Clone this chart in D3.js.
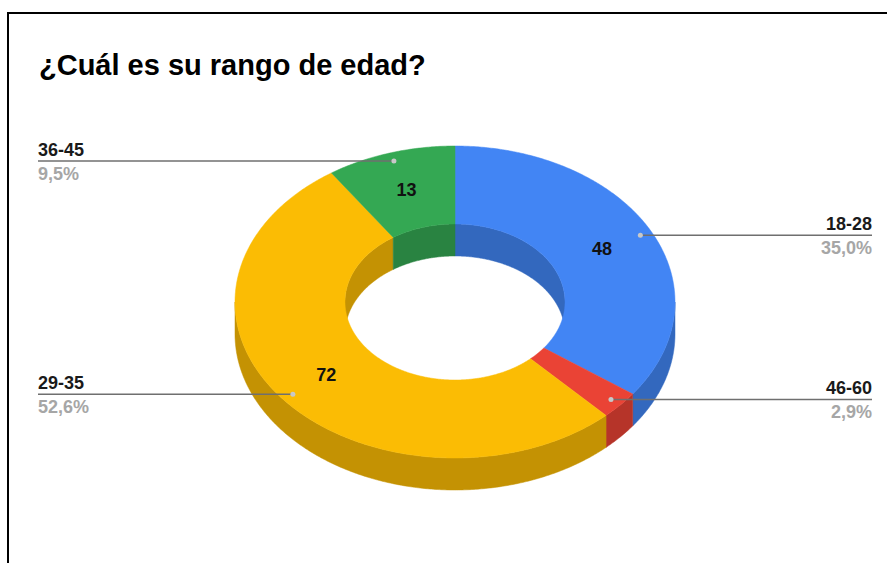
<!DOCTYPE html>
<html>
<head>
<meta charset="utf-8">
<script src="https://cdn.jsdelivr.net/npm/d3@7"></script>
<style>
  html, body { margin: 0; padding: 0; background: #fff; }
  svg { display: block; font-family: "Liberation Sans", Arial, sans-serif; }
</style>
</head>
<body>
<svg id="chart" width="887" height="563"></svg>
<script>
// Age-range survey answers
const title = "¿Cuál es su rango de edad?";
const categories = ["18-28", "46-60", "29-35", "36-45"];
const values = [48, 4, 72, 13];
const colors = ["#4285f4", "#ea4335", "#fbbc04", "#34a853"];

const W = 887, H = 563;
const cx = 455, cy = 302, rx = 220, ry = 156;
const hole = 0.5, depth = 32;
const labelRadius = 0.75, dotRadius = 0.945;
const leftX = 38, rightX = 872;

const svg = d3.select("#chart");

// frame
svg.append("path")
  .attr("d", `M8,${H} L8,13 L${W},13`)
  .attr("fill", "none").attr("stroke", "#000").attr("stroke-width", 2);

svg.append("text")
  .attr("x", 39).attr("y", 75)
  .attr("font-size", 29).attr("font-weight", "bold").attr("fill", "#000")
  .text(title);

// projected (tilted) unit circle -> pixels
const sx = d3.scaleLinear().domain([-1, 1]).range([cx - rx, cx + rx]);
const sy = d3.scaleLinear().domain([-1, 1]).range([cy - ry, cy + ry]);
const pt = (a, r, dz = 0) => [sx(r * Math.sin(a)), sy(-r * Math.cos(a)) + dz];
function arcPts(a0, a1, r, dz) {
  const n = Math.max(2, Math.ceil(Math.abs(a1 - a0) / (Math.PI / 360)));
  return d3.range(n + 1).map(i => pt(a0 + (a1 - a0) * i / n, r, dz));
}
const line = d3.line();
const wallPath = (s, e, r) => line(arcPts(s, e, r, 0).concat(arcPts(e, s, r, depth))) + "Z";

const pie = d3.pie().sort(null).value(d => d).startAngle(0).endAngle(2 * Math.PI);
const arcs = pie(values).map((d, i) => ({ ...d, name: categories[i], color: colors[i] }));
const total = d3.sum(values);
const locale = d3.formatLocale({ decimal: ",", thousands: ".", grouping: [3], currency: ["", "€"] });
const pct = locale.format(".1%");

function clipRange(a0, a1, lo, hi) {
  const s = Math.max(a0, lo), e = Math.min(a1, hi);
  return s < e ? [s, e] : null;
}

const body = svg.append("g");

// outer side walls (front half)
arcs.forEach(d => {
  const r = clipRange(d.startAngle, d.endAngle, Math.PI / 2, 3 * Math.PI / 2);
  if (!r) return;
  const c = d3.color(d.color).darker(0.7);
  body.append("path").attr("d", wallPath(r[0], r[1], 1))
    .attr("fill", c).attr("stroke", c).attr("stroke-width", 0.5);
});

// inner side walls (back half of the hole)
arcs.forEach(d => {
  [[0, Math.PI / 2], [3 * Math.PI / 2, 2 * Math.PI]].forEach(([lo, hi]) => {
    const r = clipRange(d.startAngle, d.endAngle, lo, hi);
    if (!r) return;
    const c = d3.color(d.color).darker(0.7);
    body.append("path").attr("d", wallPath(r[0], r[1], hole))
      .attr("fill", c).attr("stroke", c).attr("stroke-width", 0.5);
  });
});

// top faces
arcs.forEach(d => {
  const pts = arcPts(d.startAngle, d.endAngle, 1, 0)
    .concat(arcPts(d.endAngle, d.startAngle, hole, 0));
  body.append("path").attr("d", line(pts) + "Z")
    .attr("fill", d.color).attr("stroke", d.color).attr("stroke-width", 0.5);
});

// values on the slices
arcs.forEach(d => {
  const m = (d.startAngle + d.endAngle) / 2;
  if (d.value / total < 0.05) return;
  const [x, y] = pt(m, labelRadius);
  svg.append("text")
    .attr("x", x).attr("y", y)
    .attr("text-anchor", "middle").attr("dominant-baseline", "central")
    .attr("font-size", 18).attr("font-weight", "bold").attr("fill", "#111")
    .text(d.value);
});

// labeled legend with leader lines
arcs.forEach(d => {
  const m = (d.startAngle + d.endAngle) / 2;
  const [x, y] = pt(m, dotRadius);
  const left = x < cx;
  const x0 = left ? leftX : x, x1 = left ? x : rightX;
  svg.append("line")
    .attr("x1", x0).attr("x2", x1).attr("y1", y).attr("y2", y)
    .attr("stroke", "#6f6f6f").attr("stroke-width", 1.5);
  svg.append("circle").attr("cx", x).attr("cy", y).attr("r", 2.5)
    .attr("fill", "#c8c8c8");
  const tx = left ? leftX : rightX;
  const anchor = left ? "start" : "end";
  svg.append("text")
    .attr("x", tx).attr("y", y - 5.5)
    .attr("text-anchor", anchor)
    .attr("font-size", 18).attr("font-weight", "bold").attr("fill", "#1a1a1a")
    .text(d.name);
  svg.append("text")
    .attr("x", tx).attr("y", y + 18.5)
    .attr("text-anchor", anchor)
    .attr("font-size", 18).attr("font-weight", "bold").attr("fill", "#a6a6a6")
    .text(pct(d.value / total));
});
</script>
</body>
</html>
